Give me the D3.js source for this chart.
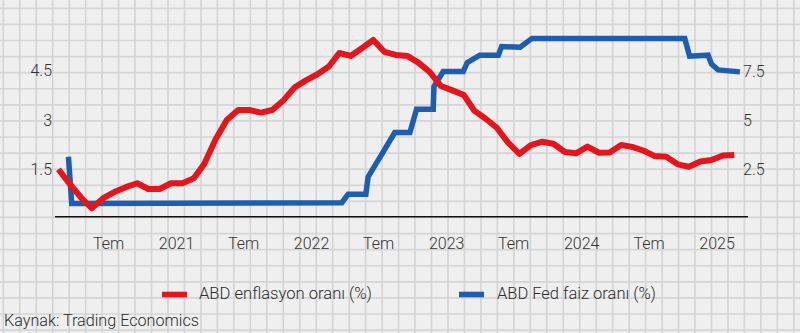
<!DOCTYPE html>
<html>
<head>
<meta charset="utf-8">
<script src="https://cdn.jsdelivr.net/npm/d3@7"></script>
<style>
html,body{margin:0;padding:0;background:#efefef;}
svg{display:block;}
.tick text{font-family:Roboto,"Open Sans",sans-serif;font-weight:300;font-size:16px;fill:#333;}
.lbl{font-family:Roboto,"Open Sans",sans-serif;font-weight:300;font-size:16px;fill:#2a2a2a;}
</style>
</head>
<body>
<svg id="chart" width="800" height="333"></svg>
<script>
// ---- data ----
// US inflation (%), monthly from Feb 2020 to Feb 2025 — right axis
const inflationStart = "2020-02-18";
const inflationValues = [2.45,1.74,1.04,0.47,0.98,1.29,1.54,1.74,1.45,1.45,
  1.74,1.74,1.99,2.72,3.98,4.95,5.46,5.46,5.33,5.46,
  5.95,6.62,6.97,7.28,7.67,8.36,8.21,8.60,9.02,8.42,
  8.26,8.21,7.87,7.39,6.68,6.46,6.22,5.43,5.02,4.56,
  3.79,3.23,3.68,3.85,3.75,3.33,3.26,3.60,3.29,3.30,
  3.68,3.59,3.39,3.12,3.09,2.70,2.58,2.85,2.92,3.15,3.18];
// US Fed funds rate (%) — left axis
const fedDates = ["2020-03-16","2020-03-25","2022-03-25","2022-04-11","2022-05-29","2022-06-04",
  "2022-07-10","2022-08-15","2022-09-25","2022-10-13","2022-11-27","2022-11-29","2022-12-24",
  "2023-02-16","2023-02-27","2023-04-02","2023-05-22","2023-05-31","2023-07-20","2023-08-21",
  "2024-10-07","2024-10-20","2024-12-09","2024-12-18","2025-01-05","2025-03-05"];
const fedValues = [1.85,0.43,0.45,0.71,0.71,1.24,1.91,2.59,2.59,3.30,3.30,3.99,4.45,
  4.45,4.72,4.95,4.95,5.21,5.19,5.46,5.46,4.92,4.95,4.68,4.50,4.44];
// axis ticks
const xTickDates = ["2020-07-01","2021-01-01","2021-07-01","2022-01-01","2022-07-01",
  "2023-01-01","2023-07-01","2024-01-01","2024-07-01","2025-01-01"];
const monthLabel = "Tem";
const leftTicks = [1.5, 3, 4.5];
const rightTicks = [2.5, 5, 7.5];
const seriesNames = ["ABD enflasyon oranı (%)", "ABD Fed faiz oranı (%)"];
const sourceText = "Kaynak: Trading Economics";

// ---- drawing ----
const W = 800, H = 333;
const svg = d3.select("#chart");
const parse = d3.timeParse("%Y-%m-%d");
const RED = "#e4151d", BLUE = "#1f5eaf";

// graph-paper background
const bg = svg.append("g");
bg.append("rect").attr("width", W).attr("height", H).attr("fill", "#efefef");
const gx = d3.range(0, 49).map(k => 3.3 + k * 16.47);
const gy = d3.range(0, 21).map(k => 8.3 + k * 16.09);
bg.selectAll(".vg").data(gx).join("line")
  .attr("x1", d => d).attr("x2", d => d).attr("y1", 0).attr("y2", H)
  .attr("stroke", "#d5d5d5").attr("stroke-width", 1.7);
bg.selectAll(".hg").data(gy).join("line")
  .attr("y1", d => d).attr("y2", d => d).attr("x1", 0).attr("x2", W)
  .attr("stroke", "#d5d5d5").attr("stroke-width", 1.7);

const x = d3.scaleTime()
  .domain([parse("2020-07-01"), parse("2025-01-01")])
  .range([108, 716.6]);
const yL = d3.scaleLinear().domain([0, 4.5]).range([217.5, 69.9]);
const yR = d3.scaleLinear().domain([0, 7.5]).range([217.5, 69.9]);

// baseline
svg.append("line").attr("x1", 55).attr("x2", 748)
  .attr("y1", 216.7).attr("y2", 216.7)
  .attr("stroke", "#111").attr("stroke-width", 1.4);

// x axis
const xAxis = d3.axisBottom(x)
  .tickValues(xTickDates.map(parse))
  .tickSize(0)
  .tickFormat(d => d.getMonth() === 6 ? monthLabel : d3.timeFormat("%Y")(d));
const gxA = svg.append("g").attr("transform", "translate(0,249)").call(xAxis);
gxA.select(".domain").remove();
gxA.selectAll("text").attr("y", 0).attr("dy", 0);

// left axis
const gl = svg.append("g").attr("transform", "translate(52,0)")
  .call(d3.axisLeft(yL).tickValues(leftTicks).tickSize(0).tickPadding(0)
    .tickFormat(d3.format("")));
gl.select(".domain").remove();
gl.selectAll("text").attr("dy", "0.38em");

// right axis
const gr = svg.append("g").attr("transform", "translate(743,0)")
  .call(d3.axisRight(yR).tickValues(rightTicks).tickSize(0).tickPadding(0)
    .tickFormat(d3.format("")));
gr.select(".domain").remove();
gr.selectAll("text").attr("dy", "0.4em");

// series
const inflation = inflationValues.map((v, i) => ({
  date: d3.timeMonth.offset(parse(inflationStart), i), value: v }));
const fed = fedDates.map((d, i) => ({ date: parse(d), value: fedValues[i] }));

svg.append("path").datum(fed)
  .attr("fill", "none").attr("stroke", BLUE).attr("stroke-width", 5.5)
  .attr("stroke-linejoin", "miter")
  .attr("d", d3.line().x(d => x(d.date)).y(d => yL(d.value)));

svg.append("path").datum(inflation)
  .attr("fill", "none").attr("stroke", RED).attr("stroke-width", 6)
  .attr("stroke-linejoin", "round")
  .attr("d", d3.line().x(d => x(d.date)).y(d => yR(d.value)));

// legend
const legend = [
  { name: seriesNames[0], color: RED, sx: 162, tx: 199, tw: 173 },
  { name: seriesNames[1], color: BLUE, sx: 459, tx: 497, tw: 159 }
];
const lg = svg.append("g");
legend.forEach(l => {
  lg.append("rect").attr("x", l.sx).attr("y", 291.7).attr("width", 25).attr("height", 5.6)
    .attr("fill", l.color);
  lg.append("text").attr("class", "lbl").attr("x", l.tx).attr("y", 299)
    .attr("textLength", l.tw).attr("lengthAdjust", "spacingAndGlyphs").text(l.name);
});

svg.append("text").attr("class", "lbl").attr("x", 4).attr("y", 326)
  .attr("textLength", 195).attr("lengthAdjust", "spacingAndGlyphs").text(sourceText);
</script>
</body>
</html>
